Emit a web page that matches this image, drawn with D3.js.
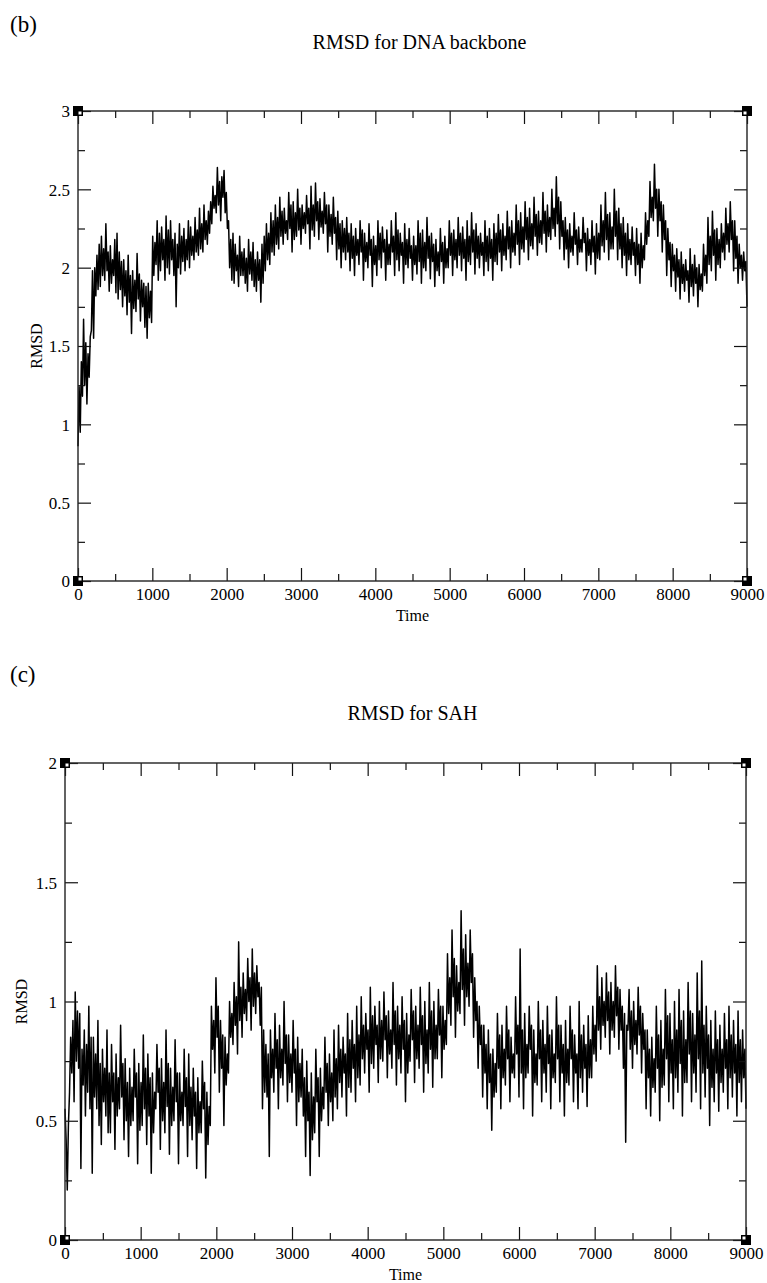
<!DOCTYPE html>
<html lang="en">
<head>
  <meta charset="UTF-8">
  <title>RMSD</title>
  <script src="https://d3js.org/d3.v7.min.js"></script>
  <style>
    body { margin: 0; background: #fff; }
  </style>
</head>
<body>
<script>
  const serif = '"Times New Roman", "Liberation Serif", "DejaVu Serif", serif';
  // time step between samples
  const step = 15;
  const xMajor = [0, 1000, 2000, 3000, 4000, 5000, 6000, 7000, 8000, 9000];
  const xMinor = [500, 1500, 2500, 3500, 4500, 5500, 6500, 7500, 8500];

  const dnaTicks = [0, 0.5, 1, 1.5, 2, 2.5, 3];
  const dnaMinor = [0.25, 0.75, 1.25, 1.75, 2.25, 2.75];
  const sahTicks = [0, 0.5, 1, 1.5, 2];
  const sahMinor = [0.25, 0.75, 1.25, 1.75];

  // RMSD for DNA backbone, one value every 15 time units (2 lines = 300 units)
  const dnaRmsd = [
    0.86, 1.24, 0.95, 1.40, 1.18, 1.67, 1.25, 1.52, 1.13, 1.45,
    1.30, 1.56, 1.60, 1.98, 1.55, 2.00, 1.82, 2.08, 1.86, 2.15,
    1.88, 2.20, 1.95, 2.12, 1.92, 2.28, 1.98, 2.10, 1.85, 2.14,
    1.90, 2.05, 1.95, 2.18, 1.84, 2.22, 1.80, 2.10, 1.86, 2.04,
    1.75, 2.05, 1.82, 1.98, 1.70, 2.08, 1.78, 1.95, 1.58, 1.98,
    1.74, 1.92, 1.72, 2.09, 1.80, 1.96, 1.66, 1.92, 1.75, 1.90,
    1.62, 1.88, 1.55, 1.90, 1.68, 1.85, 1.65, 2.20, 1.95, 2.16,
    2.02, 2.30, 1.92, 2.22, 1.98, 2.26, 2.05, 2.18, 1.92, 2.33,
    2.00, 2.24, 1.96, 2.30, 2.05, 2.18, 1.95, 2.22, 1.75, 2.15,
    2.00, 2.28, 1.96, 2.20, 2.04, 2.25, 1.98, 2.18, 2.05, 2.30,
    2.00, 2.26, 2.08, 2.20, 2.05, 2.32, 2.10, 2.24, 2.08, 2.38,
    2.12, 2.28, 2.10, 2.40, 2.18, 2.30, 2.15, 2.36, 2.22, 2.42,
    2.28, 2.52, 2.38, 2.46, 2.35, 2.64, 2.40, 2.55, 2.30, 2.58,
    2.45, 2.62, 2.35, 2.48, 2.25, 2.30, 2.00, 2.18, 1.92, 2.22,
    1.90, 2.15, 1.98, 2.08, 1.88, 2.20, 1.95, 2.10, 1.95, 2.12,
    1.90, 2.06, 1.85, 2.18, 1.96, 2.10, 1.92, 2.16, 1.88, 2.05,
    1.85, 2.10, 1.92, 2.05, 1.78, 2.15, 1.90, 2.20, 1.98, 2.28,
    2.05, 2.22, 2.02, 2.35, 2.10, 2.30, 2.08, 2.40, 2.15, 2.32,
    2.12, 2.45, 2.20, 2.36, 2.15, 2.38, 2.22, 2.30, 2.18, 2.48,
    2.25, 2.40, 2.10, 2.42, 2.18, 2.35, 2.20, 2.50, 2.24, 2.38,
    2.15, 2.40, 2.25, 2.35, 2.22, 2.46, 2.28, 2.38, 2.12, 2.52,
    2.24, 2.40, 2.20, 2.54, 2.30, 2.42, 2.18, 2.44, 2.26, 2.36,
    2.22, 2.48, 2.28, 2.40, 2.10, 2.40, 2.20, 2.34, 2.15, 2.45,
    2.22, 2.32, 2.05, 2.36, 2.12, 2.28, 2.00, 2.30, 2.10, 2.25,
    2.05, 2.32, 2.10, 2.22, 1.98, 2.28, 2.06, 2.20, 1.95, 2.25,
    2.08, 2.18, 2.02, 2.30, 2.10, 2.24, 1.92, 2.22, 2.04, 2.16,
    2.00, 2.28, 2.08, 2.18, 1.88, 2.20, 2.02, 2.14, 1.95, 2.30,
    2.05, 2.22, 2.00, 2.26, 2.10, 2.18, 1.92, 2.24, 2.02, 2.15,
    2.02, 2.30, 2.10, 2.20, 1.95, 2.35, 2.05, 2.24, 1.98, 2.22,
    2.08, 2.16, 1.90, 2.28, 2.02, 2.18, 2.00, 2.25, 2.06, 2.14,
    1.92, 2.20, 2.02, 2.14, 1.96, 2.30, 2.04, 2.22, 1.90, 2.24,
    2.00, 2.16, 1.98, 2.32, 2.06, 2.20, 1.93, 2.22, 2.04, 2.15,
    1.88, 2.18, 1.98, 2.10, 1.95, 2.25, 2.04, 2.16, 1.90, 2.20,
    2.00, 2.12, 2.00, 2.30, 2.08, 2.22, 1.95, 2.24, 2.05, 2.18,
    2.00, 2.32, 2.08, 2.22, 1.98, 2.26, 2.06, 2.18, 1.92, 2.30,
    2.04, 2.20, 2.02, 2.35, 2.10, 2.24, 1.96, 2.28, 2.06, 2.20,
    2.00, 2.22, 2.08, 2.16, 1.95, 2.30, 2.04, 2.20, 1.98, 2.25,
    2.06, 2.18, 1.92, 2.28, 2.04, 2.22, 2.02, 2.34, 2.10, 2.24,
    1.98, 2.28, 2.08, 2.20, 2.05, 2.36, 2.12, 2.26, 2.00, 2.30,
    2.10, 2.22, 2.08, 2.40, 2.15, 2.30, 2.02, 2.35, 2.12, 2.26,
    2.10, 2.42, 2.18, 2.32, 2.05, 2.38, 2.14, 2.28, 2.12, 2.45,
    2.20, 2.34, 2.08, 2.36, 2.16, 2.30, 2.15, 2.48, 2.22, 2.36,
    2.10, 2.40, 2.20, 2.32, 2.18, 2.50, 2.25, 2.38, 2.20, 2.58,
    2.28, 2.45, 2.12, 2.42, 2.20, 2.30, 2.05, 2.32, 2.12, 2.24,
    2.00, 2.28, 2.10, 2.20, 2.08, 2.35, 2.15, 2.24, 2.02, 2.26,
    2.10, 2.18, 2.10, 2.32, 2.16, 2.22, 1.98, 2.25, 2.08, 2.18,
    2.02, 2.30, 2.10, 2.20, 1.96, 2.28, 2.06, 2.22, 2.05, 2.40,
    2.14, 2.30, 2.10, 2.48, 2.18, 2.34, 2.05, 2.35, 2.12, 2.26,
    2.12, 2.50, 2.20, 2.36, 2.05, 2.38, 2.12, 2.28, 2.00, 2.32,
    2.08, 2.22, 1.95, 2.28, 2.05, 2.18, 2.02, 2.26, 2.08, 2.16,
    1.95, 2.25, 2.02, 2.15, 1.90, 2.22, 2.00, 2.14, 2.05, 2.35,
    2.15, 2.30, 2.20, 2.55, 2.32, 2.45, 2.30, 2.66, 2.38, 2.50,
    2.20, 2.50, 2.30, 2.42, 2.10, 2.40, 2.18, 2.30, 1.95, 2.25,
    2.05, 2.16, 1.88, 2.15, 1.98, 2.08, 1.85, 2.12, 1.94, 2.05,
    1.80, 2.10, 1.90, 2.02, 1.85, 2.05, 1.92, 1.98, 1.78, 2.12,
    1.88, 2.02, 1.82, 2.08, 1.90, 2.00, 1.75, 2.02, 1.86, 1.96,
    1.85, 2.15, 1.95, 2.08, 1.90, 2.32, 2.02, 2.20, 1.98, 2.36,
    2.08, 2.24, 1.92, 2.25, 2.02, 2.18, 2.00, 2.28, 2.10, 2.22,
    2.05, 2.38, 2.15, 2.28, 2.10, 2.42, 2.18, 2.30, 1.98, 2.30,
    2.06, 2.20, 1.90, 2.15, 2.00, 2.08, 1.92, 2.10, 1.98, 2.04,
    1.75
  ];

  // RMSD for SAH, one value every 15 time units (2 lines = 300 units)
  const sahRmsd = [
    0.55, 0.42, 0.21, 0.48, 0.62, 0.85, 0.70, 0.92, 0.58, 1.04,
    0.75, 0.96, 0.72, 0.95, 0.30, 0.80, 0.65, 0.88, 0.52, 0.82,
    0.62, 0.98, 0.55, 0.85, 0.28, 0.85, 0.60, 0.78, 0.55, 0.92,
    0.48, 0.74, 0.40, 0.80, 0.58, 0.72, 0.52, 0.88, 0.45, 0.70,
    0.45, 0.82, 0.58, 0.70, 0.38, 0.78, 0.52, 0.68, 0.55, 0.90,
    0.60, 0.74, 0.42, 0.76, 0.50, 0.66, 0.35, 0.72, 0.48, 0.64,
    0.50, 0.80, 0.60, 0.70, 0.32, 0.74, 0.46, 0.66, 0.48, 0.86,
    0.55, 0.72, 0.40, 0.78, 0.52, 0.68, 0.28, 0.70, 0.45, 0.62,
    0.55, 0.82, 0.62, 0.72, 0.38, 0.76, 0.50, 0.66, 0.45, 0.88,
    0.56, 0.74, 0.36, 0.72, 0.48, 0.64, 0.50, 0.84, 0.58, 0.70,
    0.32, 0.70, 0.50, 0.62, 0.48, 0.80, 0.56, 0.68, 0.35, 0.78,
    0.48, 0.64, 0.42, 0.72, 0.52, 0.62, 0.30, 0.68, 0.45, 0.58,
    0.45, 0.75, 0.55, 0.66, 0.26, 0.62, 0.40, 0.56, 0.48, 0.98,
    0.80, 0.92, 0.70, 1.10, 0.85, 0.98, 0.62, 0.92, 0.72, 0.86,
    0.48, 0.85, 0.65, 0.78, 0.70, 1.00, 0.85, 0.95, 0.82, 1.08,
    0.90, 1.02, 0.78, 1.25, 0.92, 1.06, 0.85, 1.12, 0.95, 1.05,
    0.92, 1.18, 1.00, 1.10, 0.88, 1.22, 0.98, 1.12, 0.95, 1.15,
    1.02, 1.08, 0.90, 1.06, 0.55, 0.88, 0.62, 0.82, 0.60, 0.78,
    0.35, 0.88, 0.68, 0.80, 0.62, 0.95, 0.72, 0.84, 0.55, 0.90,
    0.68, 0.80, 0.65, 1.00, 0.74, 0.86, 0.58, 0.86, 0.66, 0.78,
    0.62, 0.92, 0.70, 0.80, 0.48, 0.85, 0.58, 0.74, 0.60, 0.80,
    0.52, 0.68, 0.35, 0.75, 0.50, 0.62, 0.27, 0.70, 0.42, 0.60,
    0.45, 0.80, 0.58, 0.68, 0.35, 0.72, 0.50, 0.64, 0.55, 0.85,
    0.62, 0.74, 0.48, 0.78, 0.58, 0.70, 0.50, 0.88, 0.60, 0.76,
    0.55, 0.90, 0.66, 0.80, 0.60, 0.85, 0.70, 0.78, 0.52, 0.95,
    0.64, 0.84, 0.62, 0.92, 0.72, 0.82, 0.58, 0.98, 0.68, 0.86,
    0.65, 1.02, 0.76, 0.90, 0.70, 0.95, 0.80, 0.88, 0.62, 1.06,
    0.74, 0.94, 0.72, 0.98, 0.82, 0.90, 0.66, 1.00, 0.76, 0.92,
    0.75, 1.04, 0.84, 0.94, 0.68, 0.96, 0.78, 0.88, 0.72, 1.08,
    0.82, 0.96, 0.65, 0.98, 0.76, 0.90, 0.70, 1.02, 0.80, 0.92,
    0.58, 0.95, 0.70, 0.86, 0.75, 1.05, 0.84, 0.96, 0.66, 0.98,
    0.76, 0.90, 0.72, 1.06, 0.82, 0.94, 0.62, 1.00, 0.74, 0.88,
    0.70, 1.08, 0.80, 0.96, 0.64, 1.00, 0.76, 0.90, 0.76, 1.05,
    0.86, 0.98, 0.68, 0.98, 0.80, 0.92, 0.82, 1.20, 0.95, 1.10,
    0.90, 1.30, 1.02, 1.18, 0.85, 1.15, 0.96, 1.08, 0.95, 1.38,
    1.05, 1.22, 0.90, 1.28, 1.02, 1.16, 0.98, 1.30, 1.08, 1.20,
    0.85, 1.10, 0.92, 1.00, 0.72, 0.98, 0.82, 0.90, 0.60, 0.90,
    0.70, 0.82, 0.55, 0.88, 0.66, 0.78, 0.46, 0.80, 0.60, 0.74,
    0.62, 0.95, 0.72, 0.86, 0.55, 0.90, 0.68, 0.80, 0.65, 0.98,
    0.76, 0.88, 0.58, 0.85, 0.70, 0.78, 0.68, 1.02, 0.78, 0.90,
    0.60, 1.22, 0.70, 0.88, 0.55, 0.95, 0.68, 0.82, 0.70, 0.98,
    0.80, 0.90, 0.52, 0.88, 0.66, 0.78, 0.65, 1.00, 0.76, 0.88,
    0.58, 0.92, 0.70, 0.82, 0.62, 0.98, 0.74, 0.86, 0.55, 0.88,
    0.68, 0.78, 0.66, 1.02, 0.76, 0.90, 0.58, 0.90, 0.70, 0.82,
    0.52, 0.92, 0.66, 0.80, 0.65, 0.98, 0.76, 0.88, 0.58, 0.86,
    0.70, 0.78, 0.55, 1.00, 0.68, 0.86, 0.62, 0.90, 0.72, 0.82,
    0.56, 0.94, 0.68, 0.84, 0.68, 0.98, 0.78, 0.90, 0.75, 1.15,
    0.88, 1.02, 0.80, 1.10, 0.90, 1.00, 0.85, 1.12, 0.92, 1.04,
    0.78, 1.08, 0.88, 1.00, 0.85, 1.15, 0.94, 1.06, 0.80, 1.05,
    0.88, 0.98, 0.72, 0.95, 0.41, 0.90, 0.88, 1.05, 0.80, 0.96,
    0.72, 1.00, 0.82, 0.92, 0.78, 1.06, 0.86, 0.98, 0.70, 0.95,
    0.80, 0.88, 0.55, 0.88, 0.68, 0.80, 0.52, 0.85, 0.64, 0.76,
    0.62, 0.98, 0.72, 0.86, 0.50, 0.92, 0.64, 0.80, 0.65, 1.05,
    0.76, 0.94, 0.58, 0.95, 0.70, 0.84, 0.55, 1.00, 0.68, 0.88,
    0.62, 1.05, 0.74, 0.92, 0.52, 0.96, 0.66, 0.84, 0.66, 1.08,
    0.78, 0.96, 0.58, 0.95, 0.70, 0.86, 0.62, 1.12, 0.76, 0.96,
    0.55, 1.17, 0.70, 0.90, 0.60, 0.98, 0.72, 0.86, 0.48, 0.92,
    0.64, 0.80, 0.58, 0.96, 0.70, 0.84, 0.54, 0.90, 0.66, 0.80,
    0.62, 0.95, 0.72, 0.84, 0.55, 0.98, 0.68, 0.86, 0.60, 0.92,
    0.70, 0.82, 0.52, 0.96, 0.66, 0.84, 0.58, 0.88, 0.68, 0.80,
    0.55
  ];

  const svg = d3.select('body')
    .append('svg')
    .attr('width', 767)
    .attr('height', 1283);

  function label(x, y, size, txt, anchor) {
    return svg.append('text')
      .attr('x', x).attr('y', y)
      .attr('text-anchor', anchor || 'start')
      .style('font-family', serif)
      .style('font-size', size + 'px')
      .style('fill', '#000')
      .text(txt);
  }

  function drawPanel(p) {
    const x = d3.scaleLinear().domain([0, 9000]).range([p.left, p.right]);
    const y = d3.scaleLinear().domain([0, p.ymax]).range([p.bottom, p.top]);
    const g = svg.append('g');

    // data line
    g.append('path')
      .datum(p.values)
      .attr('fill', 'none')
      .attr('stroke', '#000')
      .attr('stroke-width', 1.5)
      .attr('stroke-linejoin', 'round')
      .attr('d', d3.line().x((d, i) => x(i * step)).y(d => y(d)));

    // axes, ticks point inward
    const axes = [
      [d3.axisBottom(x).tickValues(xMajor).tickFormat(d3.format('d')), p.bottom, 'x'],
      [d3.axisTop(x).tickValues(xMajor).tickFormat(''), p.top, 'x'],
      [d3.axisLeft(y).tickValues(p.ticks).tickFormat(d => String(d)), p.left, 'y'],
      [d3.axisRight(y).tickValues(p.ticks).tickFormat(''), p.right, 'y']
    ];
    axes.forEach(([ax, pos, dir]) => {
      const a = g.append('g')
        .attr('transform', dir === 'x' ? `translate(0,${pos})` : `translate(${pos},0)`)
        .call(ax.tickSizeInner(-13).tickSizeOuter(0).tickPadding(dir === 'x' ? 7 : 8));
      a.select('.domain').remove();
      a.selectAll('line').attr('stroke', '#111').attr('stroke-width', 1.2);
      a.selectAll('text')
        .style('font-family', serif).style('font-size', '17px').style('fill', '#000');
      if (dir === 'y') a.selectAll('text').attr('dy', '0.34em');
    });
    const minor = [
      [d3.axisBottom(x).tickValues(xMinor), p.bottom, 'x'],
      [d3.axisTop(x).tickValues(xMinor), p.top, 'x'],
      [d3.axisLeft(y).tickValues(p.minor), p.left, 'y'],
      [d3.axisRight(y).tickValues(p.minor), p.right, 'y']
    ];
    minor.forEach(([ax, pos, dir]) => {
      const a = g.append('g')
        .attr('transform', dir === 'x' ? `translate(0,${pos})` : `translate(${pos},0)`)
        .call(ax.tickSizeInner(-7).tickSizeOuter(0).tickFormat(''));
      a.select('.domain').remove();
      a.selectAll('line').attr('stroke', '#111').attr('stroke-width', 1.2);
    });

    // frame
    g.append('rect')
      .attr('x', p.left).attr('y', p.top)
      .attr('width', p.right - p.left).attr('height', p.bottom - p.top)
      .attr('fill', 'none').attr('stroke', '#222').attr('stroke-width', 1.4);

    // corner markers
    const corners = [[p.left, p.top, 1, 1], [p.right, p.top, -1, 1],
                     [p.left, p.bottom, 1, -1], [p.right, p.bottom, -1, -1]];
    corners.forEach(([cx, cy, sx, sy]) => {
      g.append('rect').attr('x', cx - 5).attr('y', cy - 5)
        .attr('width', 10).attr('height', 10).attr('fill', '#000');
      g.append('rect').attr('x', sx > 0 ? cx + 0.5 : cx - 3.5).attr('y', sy > 0 ? cy + 0.5 : cy - 3.5)
        .attr('width', 3).attr('height', 3).attr('fill', '#fff');
    });

    // texts
    label(10, p.tagY, 23, p.tag);
    label((p.left + p.right) / 2 + 7, p.titleY, 20, p.title, 'middle');
    label((p.left + p.right) / 2, p.bottom + 40, 16, 'Time', 'middle');
    label(0, 0, 16, 'RMSD', 'middle')
      .attr('transform', `translate(${p.yLabelX},${(p.top + p.bottom) / 2}) rotate(-90)`);
  }

  drawPanel({
    values: dnaRmsd, ymax: 3, ticks: dnaTicks, minor: dnaMinor,
    left: 78, right: 747, top: 111, bottom: 581,
    tag: '(b)', tagY: 32, title: 'RMSD for DNA backbone', titleY: 49, yLabelX: 42
  });
  drawPanel({
    values: sahRmsd, ymax: 2, ticks: sahTicks, minor: sahMinor,
    left: 65, right: 746, top: 763, bottom: 1240,
    tag: '(c)', tagY: 682, title: 'RMSD for SAH', titleY: 720, yLabelX: 27
  });
</script>
</body>
</html>
